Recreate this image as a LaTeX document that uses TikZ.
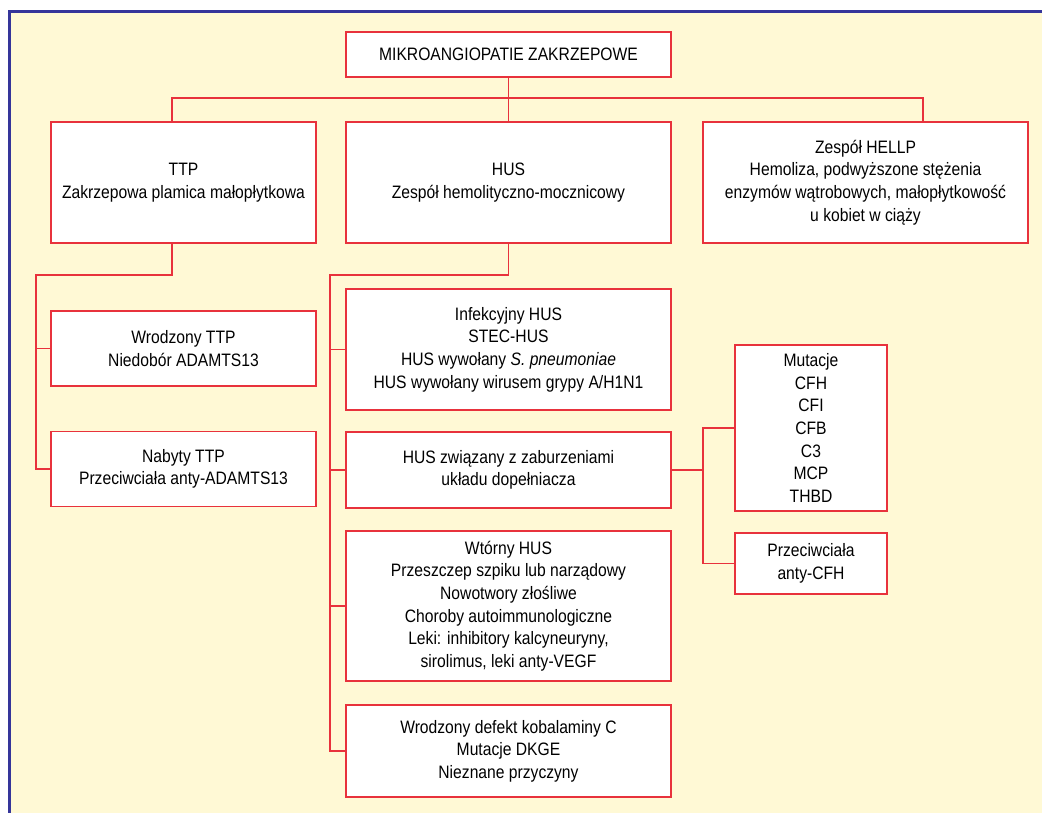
\documentclass[tikz,border=0pt]{standalone}
\usepackage{fontspec}
\setmainfont{Liberation Sans}[FakeStretch=0.87]
\definecolor{cream}{HTML}{FFF9D5}
\definecolor{frameblue}{HTML}{35359A}
\definecolor{boxred}{HTML}{E8323C}
\begin{document}
\begin{tikzpicture}[x=1pt,y=-1pt,
  box/.style={draw=boxred,line width=1.4pt,fill=white,align=center,inner sep=0pt,
    font=\fontsize{18}{22.6}\selectfont},
  conn/.style={draw=boxred,line width=1.4pt}]
\useasboundingbox (0,0) rectangle (1042,813);
\fill[cream] (8,10) rectangle (1042,813);
\draw[frameblue,line width=3pt] (9.5,813) -- (9.5,11.5) -- (1042,11.5);

\node[box,minimum width=325,minimum height=45] (top) at (508.5,54.5) {MIKROANGIOPATIE ZAKRZEPOWE};
\node[box,minimum width=265,minimum height=121] (ttp) at (183.5,182.5) {TTP\\Zakrzepowa plamica małopłytkowa};
\node[box,minimum width=325,minimum height=121] (hus) at (508.5,182.5) {HUS\\Zespół hemolityczno-mocznicowy};
\node[box,minimum width=325,minimum height=121] (hellp) at (865.5,182.5) {Zespół HELLP\\Hemoliza, podwyższone stężenia\\enzymów wątrobowych, małopłytkowość\\u kobiet w ciąży};

\node[box,minimum width=265,minimum height=75] (wro) at (183.5,348.5) {Wrodzony TTP\\Niedobór ADAMTS13};
\node[box,minimum width=265,minimum height=75] (nab) at (183.5,469) {Nabyty TTP\\Przeciwciała anty-ADAMTS13};

\node[box,minimum width=325,minimum height=121] (inf) at (508.5,349.5) {Infekcyjny HUS\\STEC-HUS\\HUS wywołany \textit{S. pneumoniae}\\HUS wywołany wirusem grypy A/H1N1};
\node[box,minimum width=325,minimum height=76] (zw) at (508.5,470) {HUS związany z zaburzeniami\\układu dopełniacza};
\node[box,minimum width=325,minimum height=150] (wto) at (508.5,606) {Wtórny HUS\\Przeszczep szpiku lub narządowy\\Nowotwory złośliwe\\Choroby autoimmunologiczne\\Leki: inhibitory kalcyneuryny,\\sirolimus, leki anty-VEGF};
\node[box,minimum width=325,minimum height=92] (def) at (508.5,751) {Wrodzony defekt kobalaminy C\\Mutacje DKGE\\Nieznane przyczyny};

\node[box,minimum width=152,minimum height=166] (mut) at (811,428) {Mutacje\\CFH\\CFI\\CFB\\C3\\MCP\\THBD};
\node[box,minimum width=152,minimum height=61] (prz) at (811,563.5) {Przeciwciała\\anty-CFH};

\coordinate (hbar) at (0,98);
\coordinate (tx) at (172,0);
\coordinate (hx) at (923,0);
\coordinate (tl) at (36,275);
\coordinate (hl) at (330,275);
\coordinate (cx) at (703,0);

\draw[conn] (top.south) -- (top.south |- hbar);
\draw[conn] (ttp.north -| tx) -- (tx |- hbar) -- (hx |- hbar) -- (hellp.north -| hx);
\draw[conn] (hus.north) -- (hus.north |- hbar);

\draw[conn] (ttp.south -| tx) -- (tx |- tl) -- (tl) |- (nab.west);
\draw[conn] (tl |- wro.west) -- (wro.west);

\draw[conn] (hus.south) |- (hl) |- (def.west);
\draw[conn] (hl |- inf.west) -- (inf.west);
\draw[conn] (hl |- zw.west) -- (zw.west);
\draw[conn] (hl |- wto.west) -- (wto.west);

\draw[conn] (zw.east) -- (zw.east -| cx);
\draw[conn] (mut.west) -- (mut.west -| cx) -- (prz.west -| cx) -- (prz.west);
\end{tikzpicture}
\end{document}
